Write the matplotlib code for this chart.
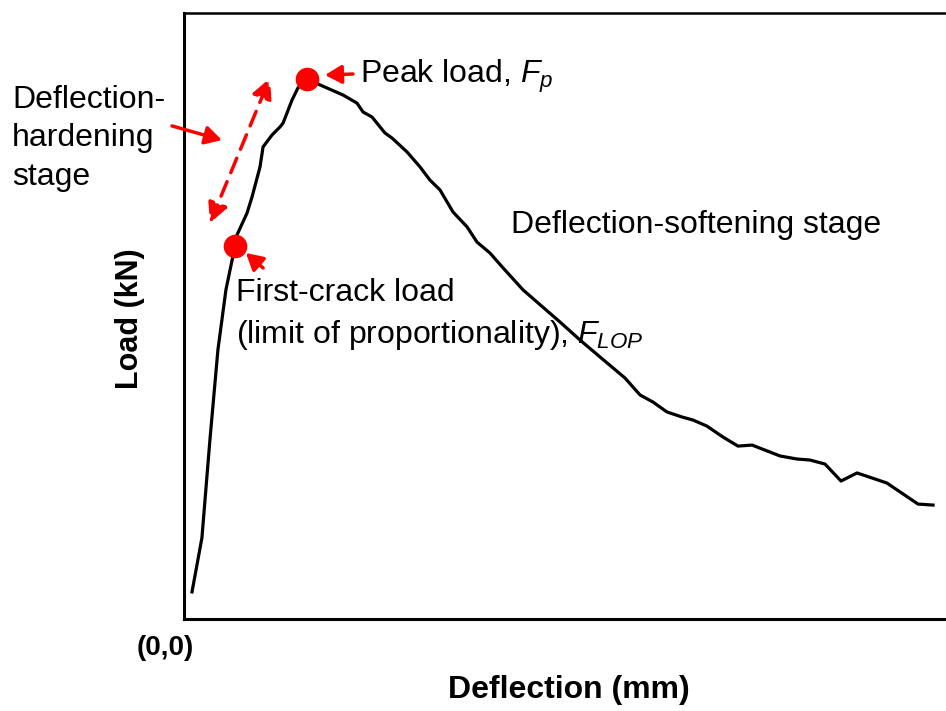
import matplotlib
matplotlib.use("Agg")
import matplotlib.pyplot as plt

plt.rcParams["font.family"] = ["Liberation Sans", "DejaVu Sans"]
plt.rcParams["mathtext.fontset"] = "custom"
plt.rcParams["mathtext.rm"] = "Liberation Sans"
plt.rcParams["mathtext.it"] = "Liberation Sans:italic"

# Load-deflection curve (deflection in mm, load in kN)
deflection = [0.042, 0.094, 0.136, 0.178, 0.220, 0.268, 0.278, 0.331, 0.357, 0.399,
              0.415, 0.462, 0.504, 0.520, 0.567, 0.598, 0.646, 0.714, 0.835, 0.908,
              0.940, 0.987, 1.055, 1.092, 1.171, 1.239, 1.291, 1.344, 1.412, 1.486,
              1.538, 1.606, 1.675, 1.780, 1.974, 2.079, 2.184, 2.315, 2.394, 2.462,
              2.535, 2.614, 2.672, 2.745, 2.829, 2.908, 2.982, 3.129, 3.218, 3.286,
              3.365, 3.449, 3.533, 3.612, 3.690, 3.759, 3.853, 3.932]
load = [1.34, 4.01, 8.86, 13.32, 16.29, 18.47, 19.01, 20.10, 20.89, 22.38,
        23.37, 23.96, 24.36, 24.55, 25.69, 26.29, 26.73, 26.44, 25.94, 25.54,
        25.10, 24.85, 24.06, 23.81, 23.12, 22.38, 21.73, 21.24, 20.15, 19.41,
        18.66, 18.12, 17.38, 16.29, 14.70, 13.81, 12.97, 11.93, 11.09, 10.74,
        10.25, 10.00, 9.85, 9.55, 9.01, 8.56, 8.61, 8.07, 7.92, 7.87,
        7.67, 6.83, 7.23, 6.98, 6.73, 6.29, 5.69, 5.64]

# key points on the curve
lop_x, lop_y = 0.268, 18.47
peak_x, peak_y = 0.646, 26.73

red = "#ff0000"
fs = 23

fig = plt.figure(figsize=(9.46, 7.11), dpi=100)
ax = fig.add_axes([0.1945, 0.1294, 0.8055, 0.8523])

ax.plot(deflection, load, color="black", lw=2.3, zorder=2)
ax.plot([lop_x, peak_x], [lop_y, peak_y], "o", color=red, ms=16, zorder=3)

ax.set_xlim(0, 4.0)
ax.set_ylim(0, 30)
ax.set_xticks([])
ax.set_yticks([])
ax.spines["right"].set_visible(False)
for side in ["left", "bottom"]:
    ax.spines[side].set_linewidth(2.2)
ax.spines["top"].set_linewidth(1.8)

arrow = dict(arrowstyle="-|>,head_length=0.5,head_width=0.28", color=red,
             lw=2.5, mutation_scale=20, shrinkA=0, shrinkB=0)

# peak load
ax.annotate("", xy=(0.740, 26.93), xytext=(0.887, 26.98), arrowprops=arrow)
ax.text(0.924, 26.53, r"Peak load, $F_p$", fontsize=fs, va="baseline")

# first-crack load
ax.annotate("", xy=(0.325, 18.12), xytext=(0.415, 17.38), arrowprops=arrow)
ax.text(0.275, 15.75, "First-crack load", fontsize=fs, va="baseline")
ax.text(0.275, 13.65, r"(limit of proportionality), $F_{LOP}$", fontsize=fs,
        va="baseline")

# deflection-hardening stage
ax.annotate("", xy=(0.199, 23.71), xytext=(-0.063, 24.41), arrowprops=arrow,
            annotation_clip=False)
dashed = dict(arrowstyle="<|-|>,head_length=0.6,head_width=0.3", color=red,
              lw=2.5, mutation_scale=20, linestyle=(0, (4.5, 2.8)),
              shrinkA=0, shrinkB=0)
ax.annotate("", xy=(0.451, 26.78), xytext=(0.136, 19.60), arrowprops=dashed)
fig.text(0.0127, 1 - 108 / 711, "Deflection-", fontsize=fs, va="baseline")
fig.text(0.0127, 1 - 146 / 711, "hardening", fontsize=fs, va="baseline")
fig.text(0.0127, 1 - 185 / 711, "stage", fontsize=fs, va="baseline")

ax.text(1.717, 19.11, "Deflection-softening stage", fontsize=fs, va="baseline")

ax.set_xlabel("Deflection (mm)", fontsize=23, fontweight="bold", va="center")
ax.xaxis.set_label_coords(0.505, -0.117)
ax.set_ylabel("Load (kN)", fontsize=22, fontweight="bold", va="center")
ax.yaxis.set_label_coords(-0.071, 0.496)
fig.text(165 / 946, 1 - 655 / 711, "(0,0)", fontsize=20, fontweight="bold",
         ha="center", va="baseline")

fig.savefig("out.png", dpi=100)
